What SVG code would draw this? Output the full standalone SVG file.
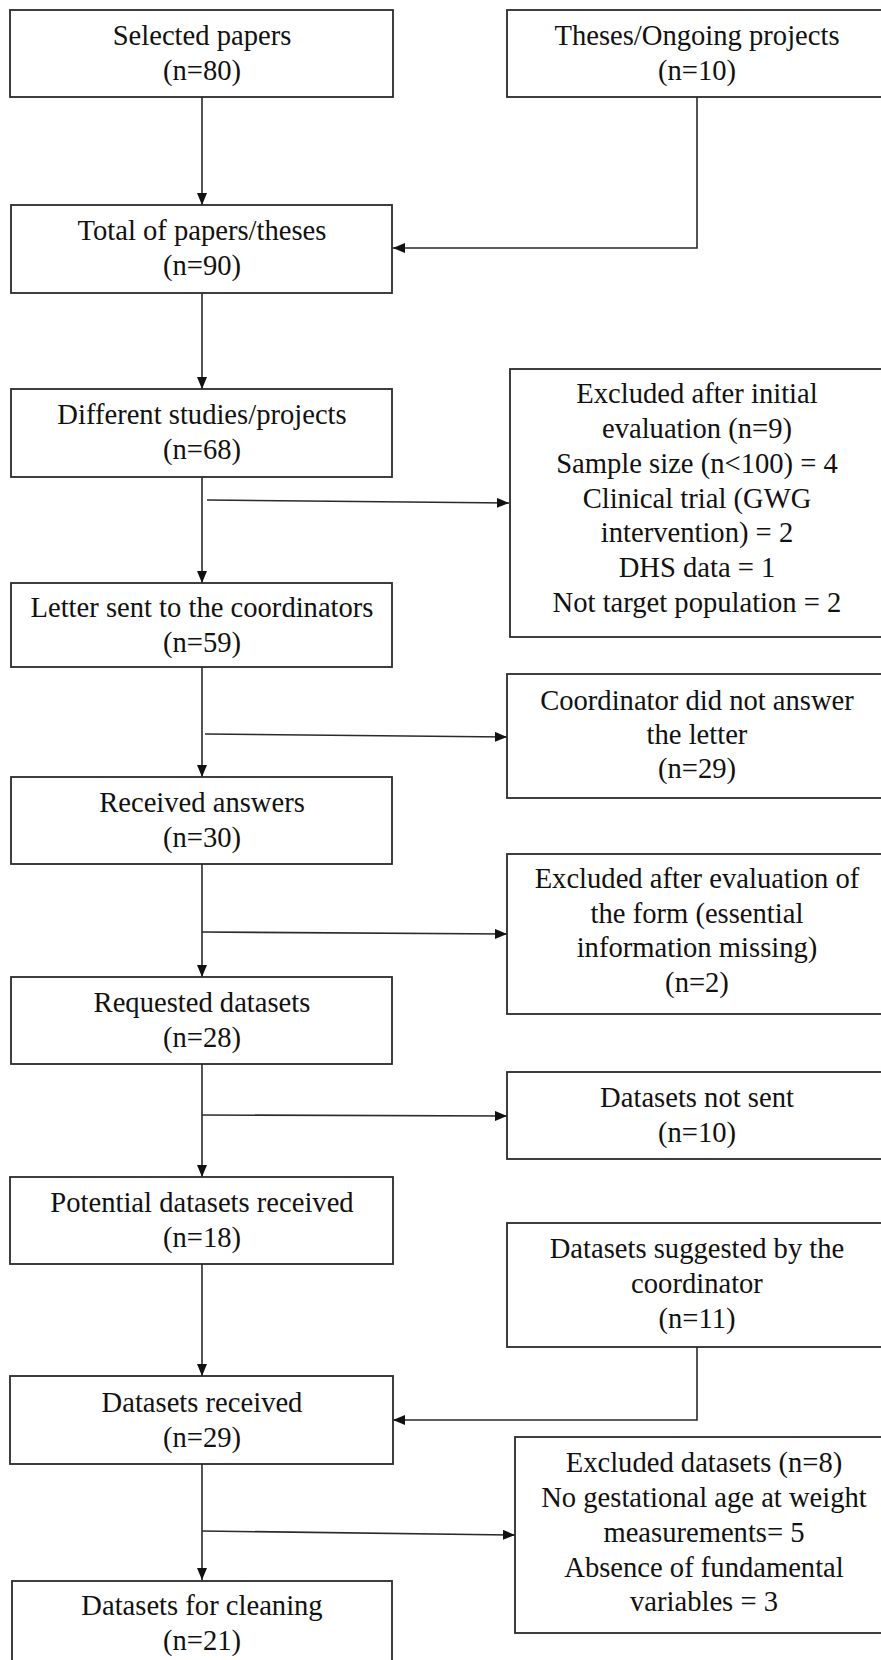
<svg xmlns="http://www.w3.org/2000/svg" width="881" height="1660" viewBox="0 0 881 1660">
<style>
.box{fill:#fff;stroke:#2a2a2a;stroke-width:1.8}
.t{font-family:"Liberation Serif","Times New Roman",serif;font-size:28.6px;fill:#111;text-anchor:middle}
.c{fill:none;stroke:#2a2a2a;stroke-width:1.6}
</style>
<defs>
<marker id="ah" viewBox="0 0 12 10" refX="12" refY="5" markerWidth="12" markerHeight="10" markerUnits="userSpaceOnUse" orient="auto">
<path d="M0,0 L12,5 L0,10 Z" fill="#111"/>
</marker>
</defs>
<rect width="881" height="1660" fill="#fff"/>
<g id="connectors">
<line class="c" x1="202" y1="97" x2="202" y2="205" marker-end="url(#ah)"/>
<polyline class="c" points="697,97 697,248 393,248" marker-end="url(#ah)"/>
<line class="c" x1="202" y1="293" x2="202" y2="389" marker-end="url(#ah)"/>
<line class="c" x1="202" y1="477" x2="202" y2="583" marker-end="url(#ah)"/>
<line class="c" x1="207" y1="500" x2="509" y2="503" marker-end="url(#ah)"/>
<line class="c" x1="202" y1="667" x2="202" y2="777" marker-end="url(#ah)"/>
<line class="c" x1="205" y1="734" x2="507" y2="737" marker-end="url(#ah)"/>
<line class="c" x1="202" y1="864" x2="202" y2="977" marker-end="url(#ah)"/>
<line class="c" x1="202" y1="932" x2="507" y2="934" marker-end="url(#ah)"/>
<line class="c" x1="202" y1="1064" x2="202" y2="1177" marker-end="url(#ah)"/>
<line class="c" x1="202" y1="1115" x2="507" y2="1116" marker-end="url(#ah)"/>
<line class="c" x1="202" y1="1264" x2="202" y2="1376" marker-end="url(#ah)"/>
<polyline class="c" points="697,1347 697,1420 393,1420" marker-end="url(#ah)"/>
<line class="c" x1="202" y1="1464" x2="202" y2="1580" marker-end="url(#ah)"/>
<line class="c" x1="202" y1="1531" x2="515" y2="1535" marker-end="url(#ah)"/>
</g>
<g id="n_selected">
<rect class="box" x="10" y="10" width="383" height="87"/>
<text class="t" x="202" y="45">Selected papers</text>
<text class="t" x="202" y="80">(n=80)</text>
</g>
<g id="n_theses">
<rect class="box" x="507" y="10" width="390" height="87"/>
<text class="t" x="697" y="45">Theses/Ongoing projects</text>
<text class="t" x="697" y="80">(n=10)</text>
</g>
<g id="n_total">
<rect class="box" x="11" y="205" width="381" height="88"/>
<text class="t" x="202" y="240">Total of papers/theses</text>
<text class="t" x="202" y="275">(n=90)</text>
</g>
<g id="n_different">
<rect class="box" x="11" y="389" width="381" height="88"/>
<text class="t" x="202" y="424">Different studies/projects</text>
<text class="t" x="202" y="459">(n=68)</text>
</g>
<g id="n_excl1">
<rect class="box" x="510" y="369" width="390" height="268"/>
<text class="t" x="697" y="403">Excluded after initial</text>
<text class="t" x="697" y="438">evaluation (n=9)</text>
<text class="t" x="697" y="473">Sample size (n&lt;100) = 4</text>
<text class="t" x="697" y="508">Clinical trial (GWG</text>
<text class="t" x="697" y="542">intervention) = 2</text>
<text class="t" x="697" y="577">DHS data = 1</text>
<text class="t" x="697" y="612">Not target population = 2</text>
</g>
<g id="n_letter">
<rect class="box" x="11" y="583" width="381" height="84"/>
<text class="t" x="202" y="617">Letter sent to the coordinators</text>
<text class="t" x="202" y="652">(n=59)</text>
</g>
<g id="n_noanswer">
<rect class="box" x="507" y="674" width="390" height="124"/>
<text class="t" x="697" y="710">Coordinator did not answer</text>
<text class="t" x="697" y="744">the letter</text>
<text class="t" x="697" y="778">(n=29)</text>
</g>
<g id="n_received">
<rect class="box" x="11" y="777" width="381" height="87"/>
<text class="t" x="202" y="812">Received answers</text>
<text class="t" x="202" y="847">(n=30)</text>
</g>
<g id="n_excl2">
<rect class="box" x="507" y="854" width="390" height="160"/>
<text class="t" x="697" y="888">Excluded after evaluation of</text>
<text class="t" x="697" y="923">the form (essential</text>
<text class="t" x="697" y="957">information missing)</text>
<text class="t" x="697" y="992">(n=2)</text>
</g>
<g id="n_requested">
<rect class="box" x="11" y="977" width="381" height="87"/>
<text class="t" x="202" y="1012">Requested datasets</text>
<text class="t" x="202" y="1047">(n=28)</text>
</g>
<g id="n_notsent">
<rect class="box" x="507" y="1072" width="390" height="87"/>
<text class="t" x="697" y="1107">Datasets not sent</text>
<text class="t" x="697" y="1142">(n=10)</text>
</g>
<g id="n_potential">
<rect class="box" x="10" y="1177" width="383" height="87"/>
<text class="t" x="202" y="1212">Potential datasets received</text>
<text class="t" x="202" y="1247">(n=18)</text>
</g>
<g id="n_suggested">
<rect class="box" x="507" y="1223" width="390" height="124"/>
<text class="t" x="697" y="1258">Datasets suggested by the</text>
<text class="t" x="697" y="1293">coordinator</text>
<text class="t" x="697" y="1328">(n=11)</text>
</g>
<g id="n_dreceived">
<rect class="box" x="10" y="1376" width="383" height="88"/>
<text class="t" x="202" y="1412">Datasets received</text>
<text class="t" x="202" y="1447">(n=29)</text>
</g>
<g id="n_excl3">
<rect class="box" x="515" y="1437" width="390" height="196"/>
<text class="t" x="704" y="1472">Excluded datasets (n=8)</text>
<text class="t" x="704" y="1507">No gestational age at weight</text>
<text class="t" x="704" y="1542">measurements= 5</text>
<text class="t" x="704" y="1577">Absence of fundamental</text>
<text class="t" x="704" y="1611">variables = 3</text>
</g>
<g id="n_cleaning">
<rect class="box" x="12" y="1581" width="380" height="100"/>
<text class="t" x="202" y="1615">Datasets for cleaning</text>
<text class="t" x="202" y="1650">(n=21)</text>
</g>
</svg>
